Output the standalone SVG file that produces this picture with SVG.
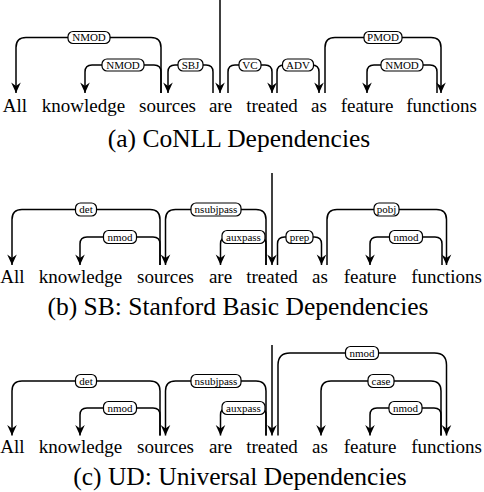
<svg xmlns="http://www.w3.org/2000/svg" width="484" height="492" viewBox="0 0 484 492">
<style>
.w{font-family:"Liberation Serif","Times New Roman",serif;font-size:19px;text-anchor:middle;fill:#000}
.cap{font-family:"Liberation Serif","Times New Roman",serif;font-size:25.5px;text-anchor:middle;fill:#000}
.e{fill:none;stroke:#000;stroke-width:1.5}
.arc{marker-end:url(#arr)}
.lb rect{fill:#fff;stroke:#000;stroke-width:1.2}
.lb text{font-family:"Liberation Serif","Times New Roman",serif;font-size:11px;text-anchor:middle;fill:#000}
</style>
<defs>
<marker id="arr" viewBox="-11 -6 12 12" markerWidth="12" markerHeight="12" refX="0" refY="0" orient="auto" markerUnits="userSpaceOnUse">
<path d="M0,0 L-10.5,-4.8 L-7,0 L-10.5,4.8 Z" fill="#000"/>
</marker>
</defs>

<!-- Panel (a) -->
<g id="panel-a">
<g id="connectors-a">
<path class="e" d="M220 0 V93" marker-end="url(#arr)"/>
<path class="e arc" d="M161 93 V47.5 Q161 37.5 151 37.5 H26 Q16 37.5 16 47.5 V93"/>
<path class="e arc" d="M161 93 V72 Q161 65 154 65 H92 Q85 65 85 72 V93"/>
<path class="e arc" d="M213 93 V72 Q213 65 206 65 H175 Q168 65 168 72 V93"/>
<path class="e arc" d="M228 93 V72 Q228 65 235 65 H265 Q272 65 272 72 V93"/>
<path class="e arc" d="M277 93 V72 Q277 65 284 65 H312 Q319 65 319 72 V93"/>
<path class="e arc" d="M325 93 V47.5 Q325 37.5 335 37.5 H431 Q441 37.5 441 47.5 V93"/>
<path class="e arc" d="M437 93 V72 Q437 65 430 65 H374 Q367 65 367 72 V93"/>
<g class="lb">
<rect x="68" y="31.5" width="42" height="12" rx="5"/><text x="89" y="41.3">NMOD</text>
<rect x="102" y="59" width="42" height="12" rx="5"/><text x="123" y="68.8">NMOD</text>
<rect x="178" y="59" width="25" height="12" rx="5"/><text x="190.5" y="68.8">SBJ</text>
<rect x="239" y="59" width="22" height="12" rx="5"/><text x="250" y="68.8">VC</text>
<rect x="282.5" y="59" width="31" height="12" rx="5"/><text x="298" y="68.8">ADV</text>
<rect x="364" y="31.5" width="38" height="12" rx="5"/><text x="383" y="41.3">PMOD</text>
<rect x="381" y="59" width="42" height="12" rx="5"/><text x="402" y="68.8">NMOD</text>
</g>
</g>
<g id="a-All"><text class="w" x="15" y="112">All</text></g>
<g id="a-knowledge"><text class="w" x="83.5" y="112">knowledge</text></g>
<g id="a-sources"><text class="w" x="167.5" y="112">sources</text></g>
<g id="a-are"><text class="w" x="220.5" y="112">are</text></g>
<g id="a-treated"><text class="w" x="272" y="112">treated</text></g>
<g id="a-as"><text class="w" x="319" y="112">as</text></g>
<g id="a-feature"><text class="w" x="367" y="112">feature</text></g>
<g id="a-functions"><text class="w" x="441.5" y="112">functions</text></g>
<text class="cap" x="239" y="146.5">(a) CoNLL Dependencies</text>
</g>

<!-- Panel (b) -->
<g id="panel-b">
<g id="connectors-b">
<path class="e" d="M272 173 V265" marker-end="url(#arr)"/>
<path class="e arc" d="M160 265 V219.5 Q160 209.5 150 209.5 H22 Q12 209.5 12 219.5 V265"/>
<path class="e arc" d="M160 265 V244 Q160 237 153 237 H87 Q80 237 80 244 V265"/>
<path class="e arc" d="M266 265 V219.5 Q266 209.5 256 209.5 H175.5 Q165.5 209.5 165.5 219.5 V265"/>
<path class="e arc" d="M266 265 V244 Q266 237 259 237 H227.5 Q220.5 237 220.5 244 V265"/>
<path class="e arc" d="M277.5 265 V244 Q277.5 237 284.5 237 H314.5 Q321.5 237 321.5 244 V265"/>
<path class="e arc" d="M327 265 V219.5 Q327 209.5 337 209.5 H436.5 Q446.5 209.5 446.5 219.5 V265"/>
<path class="e arc" d="M442 265 V244 Q442 237 435 237 H377 Q370 237 370 244 V265"/>
<g class="lb">
<rect x="75.5" y="203" width="21" height="13" rx="5"/><text x="86" y="213.3">det</text>
<rect x="103.5" y="230.5" width="33" height="13" rx="5"/><text x="120" y="240.8">nmod</text>
<rect x="191" y="203" width="50" height="13" rx="5"/><text x="216" y="213.3">nsubjpass</text>
<rect x="222" y="230.5" width="43" height="13" rx="5"/><text x="243.5" y="240.8">auxpass</text>
<rect x="286" y="230.5" width="27" height="13" rx="5"/><text x="299.5" y="240.8">prep</text>
<rect x="374" y="203" width="25" height="13" rx="5"/><text x="386.5" y="213.3">pobj</text>
<rect x="389.5" y="230.5" width="33" height="13" rx="5"/><text x="406" y="240.8">nmod</text>
</g>
</g>
<g id="b-All"><text class="w" x="12.5" y="282.5">All</text></g>
<g id="b-knowledge"><text class="w" x="80.5" y="282.5">knowledge</text></g>
<g id="b-sources"><text class="w" x="165.5" y="282.5">sources</text></g>
<g id="b-are"><text class="w" x="220.5" y="282.5">are</text></g>
<g id="b-treated"><text class="w" x="272" y="282.5">treated</text></g>
<g id="b-as"><text class="w" x="320" y="282.5">as</text></g>
<g id="b-feature"><text class="w" x="370" y="282.5">feature</text></g>
<g id="b-functions"><text class="w" x="446.5" y="282.5">functions</text></g>
<text class="cap" x="238" y="315">(b) SB: Stanford Basic Dependencies</text>
</g>

<!-- Panel (c) -->
<g id="panel-c">
<g id="connectors-c">
<path class="e" d="M272 345 V435.5" marker-end="url(#arr)"/>
<path class="e arc" d="M160 435.5 V391 Q160 381 150 381 H22 Q12 381 12 391 V435.5"/>
<path class="e arc" d="M160 435.5 V415 Q160 408 153 408 H87 Q80 408 80 415 V435.5"/>
<path class="e arc" d="M266 435.5 V391 Q266 381 256 381 H175.5 Q165.5 381 165.5 391 V435.5"/>
<path class="e arc" d="M266 435.5 V415 Q266 408 259 408 H227.5 Q220.5 408 220.5 415 V435.5"/>
<path class="e arc" d="M278 435.5 V365 Q278 353 290 353 H434.5 Q446.5 353 446.5 365 V435.5"/>
<path class="e arc" d="M441 435.5 V391 Q441 381 431 381 H331 Q321 381 321 391 V435.5"/>
<path class="e arc" d="M441 435.5 V415 Q441 408 434 408 H377 Q370 408 370 415 V435.5"/>
<g class="lb">
<rect x="75.5" y="374.5" width="21" height="13" rx="5"/><text x="86" y="384.8">det</text>
<rect x="103.5" y="401.5" width="33" height="13" rx="5"/><text x="120" y="411.8">nmod</text>
<rect x="191" y="374.5" width="50" height="13" rx="5"/><text x="216" y="384.8">nsubjpass</text>
<rect x="222" y="401.5" width="43" height="13" rx="5"/><text x="243.5" y="411.8">auxpass</text>
<rect x="345.5" y="346.5" width="33" height="13" rx="5"/><text x="362" y="356.8">nmod</text>
<rect x="368" y="374.5" width="26" height="13" rx="5"/><text x="381" y="384.8">case</text>
<rect x="389" y="401.5" width="33" height="13" rx="5"/><text x="405.5" y="411.8">nmod</text>
</g>
</g>
<g id="c-All"><text class="w" x="12.5" y="453">All</text></g>
<g id="c-knowledge"><text class="w" x="80.5" y="453">knowledge</text></g>
<g id="c-sources"><text class="w" x="165.5" y="453">sources</text></g>
<g id="c-are"><text class="w" x="220.5" y="453">are</text></g>
<g id="c-treated"><text class="w" x="272" y="453">treated</text></g>
<g id="c-as"><text class="w" x="320" y="453">as</text></g>
<g id="c-feature"><text class="w" x="370" y="453">feature</text></g>
<g id="c-functions"><text class="w" x="446.5" y="453">functions</text></g>
<text class="cap" x="240" y="485">(c) UD: Universal Dependencies</text>
</g>
</svg>
